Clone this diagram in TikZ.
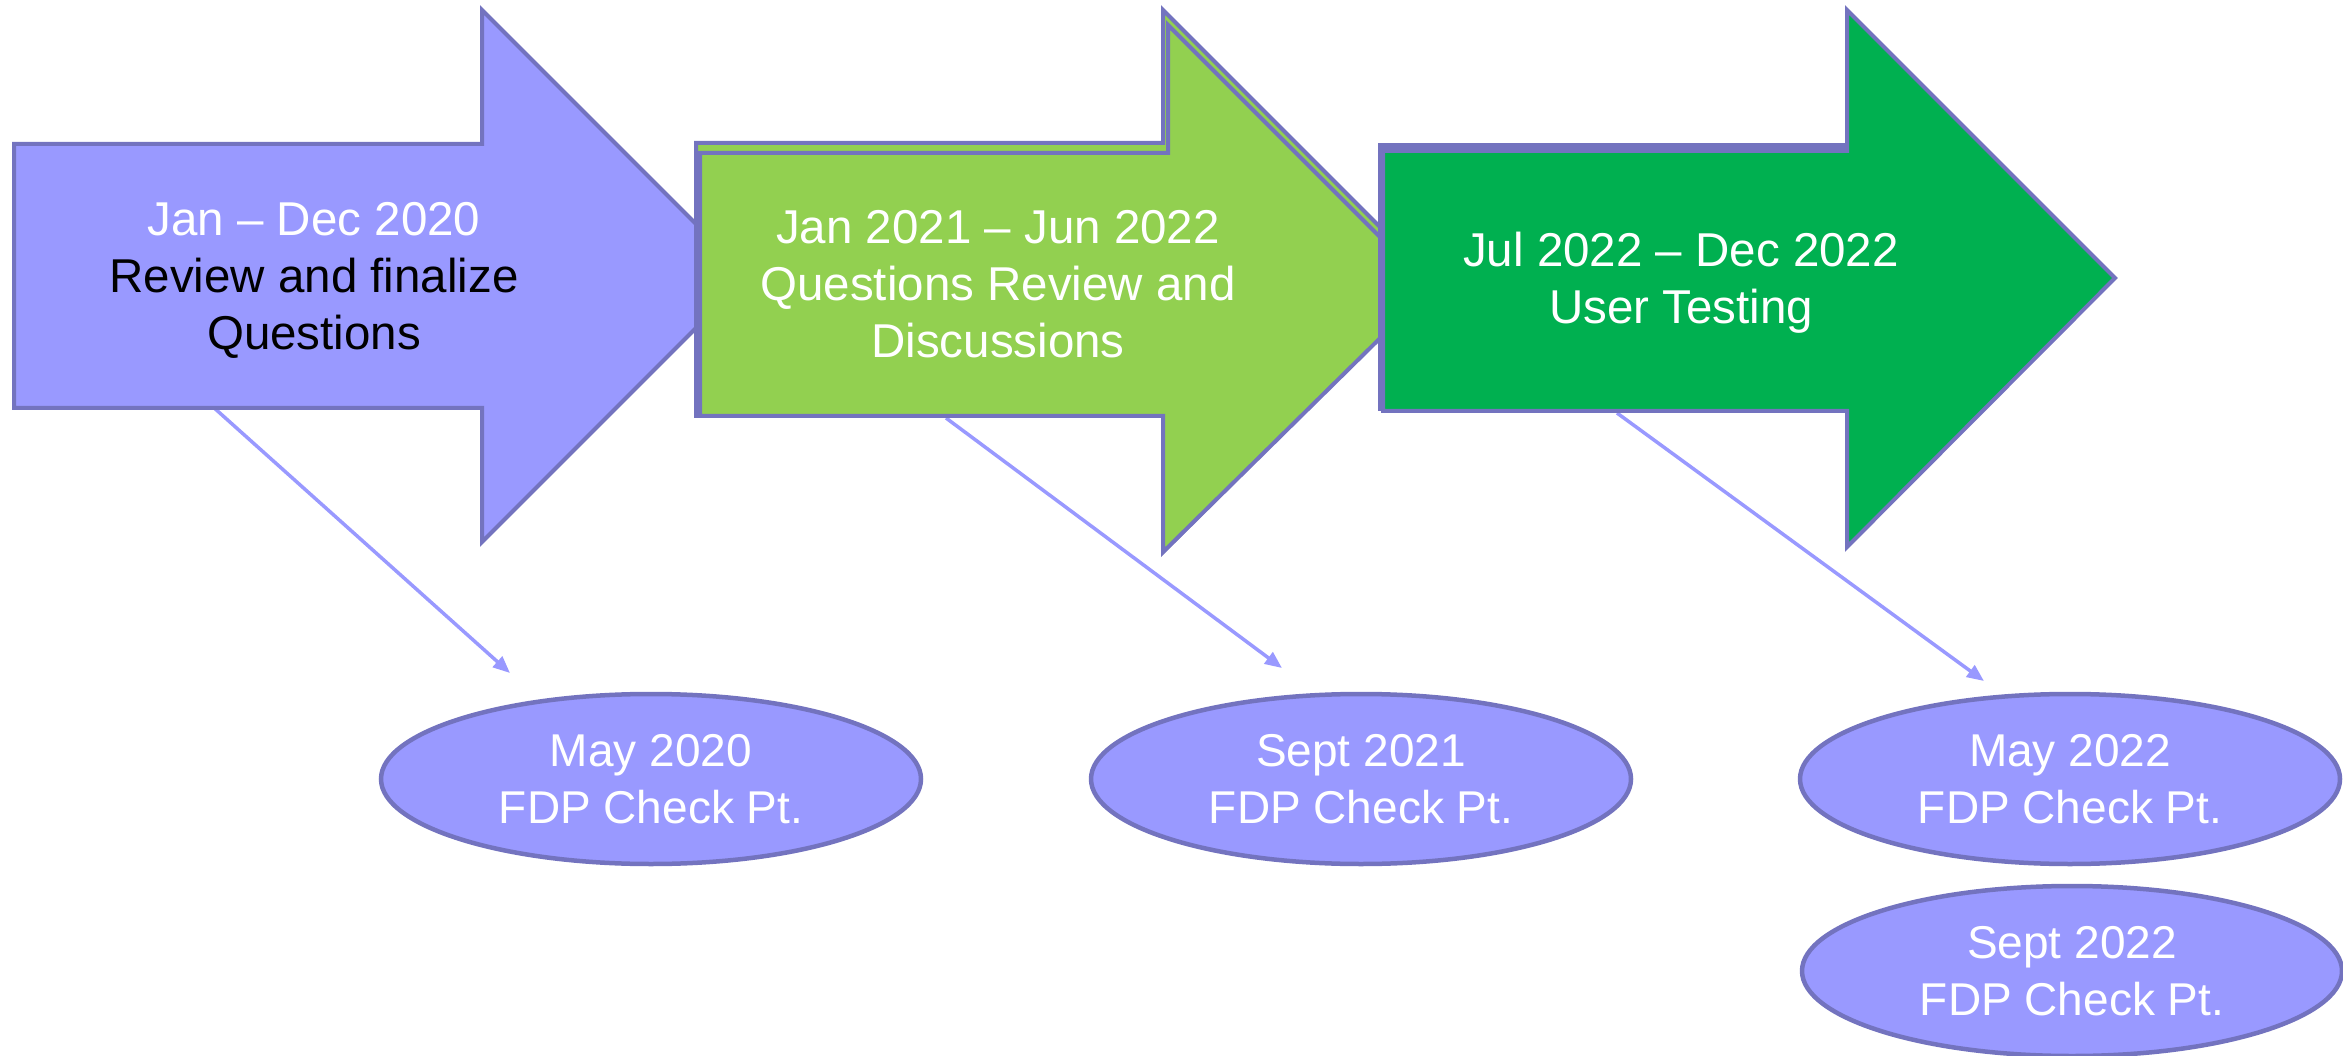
\documentclass[tikz,border=0pt]{standalone}
\usepackage{fontspec}
\setmainfont{Liberation Sans}
\usetikzlibrary{shapes.geometric,arrows.meta}
\definecolor{lav}{HTML}{9999FF}
\definecolor{edge}{RGB}{115,115,191}
\definecolor{lgreen}{HTML}{92D050}
\definecolor{dgreen}{HTML}{00B050}
\begin{document}
\begin{tikzpicture}[x=1pt,y=-1pt,
  bigarrow/.style={draw=edge, line width=4pt, line join=miter},
  arrowtext/.style={align=center, font=\fontsize{47.5}{57}\selectfont, text=white, inner sep=0pt},
  checkpt/.style={ellipse, draw=edge, fill=lav, line width=4.5pt, minimum width=540pt, minimum height=170pt, inner sep=0pt, align=center, text=white, font=\fontsize{46}{57}\selectfont},
  link/.style={draw=lav, line width=3.5pt, -{Triangle[length=17pt,width=14pt]}}]
\useasboundingbox (0,0) rectangle (2343,1056);
% connectors (behind the arrows)
\coordinate (c1s) at (212,406); \coordinate (c1e) at (510,673);
\coordinate (c2s) at (946,418); \coordinate (c2e) at (1282,668);
\coordinate (c3s) at (1617,413); \coordinate (c3e) at (1984,681);
\draw[link] (c1s) -- (c1e);
\draw[link] (c2s) -- (c2e);
\draw[link] (c3s) -- (c3e);
% arrow 1
\path[bigarrow, fill=lav] (14,144) -- (482,144) -- (482,10) -- (748,276) -- (482,542) -- (482,408) -- (14,408) -- cycle;
% arrow 2 (doubled outline)
\path[bigarrow, fill=lgreen] (696,143) -- (1163,143) -- (1163,10) -- (1434,281) -- (1163,552) -- (1163,416) -- (696,416) -- cycle;
\path[bigarrow, fill=lgreen] (700,153) -- (1168,153) -- (1168,25) -- (1431,288) -- (1163,552) -- (1163,416) -- (700,416) -- cycle;
% arrow 3
\fill[edge] (1378,143) rectangle (1847,411);
\path[bigarrow, fill=dgreen] (1383,151) -- (1847,151) -- (1847,10) -- (2115,278) -- (1847,547) -- (1847,411) -- (1383,411) -- cycle;
% arrow texts
\node[arrowtext] (t1) at (314,280) {Jan – Dec 2020\\\textcolor{black}{Review and finalize}\\\textcolor{black}{Questions}};
\node[arrowtext] (t2) at (998,284) {Jan 2021 – Jun 2022\\Questions Review and\\Discussions};
\node[arrowtext] (t3) at (1681,283) {Jul 2022 – Dec 2022\\User Testing};
% check points
\node[checkpt] (e1) at (651,779) {May 2020\\FDP Check Pt.};
\node[checkpt] (e2) at (1361,779) {Sept 2021\\FDP Check Pt.};
\node[checkpt] (e3) at (2070,779) {May 2022\\FDP Check Pt.};
\node[checkpt] (e4) at (2072,971) {Sept 2022\\FDP Check Pt.};
\end{tikzpicture}
\end{document}
